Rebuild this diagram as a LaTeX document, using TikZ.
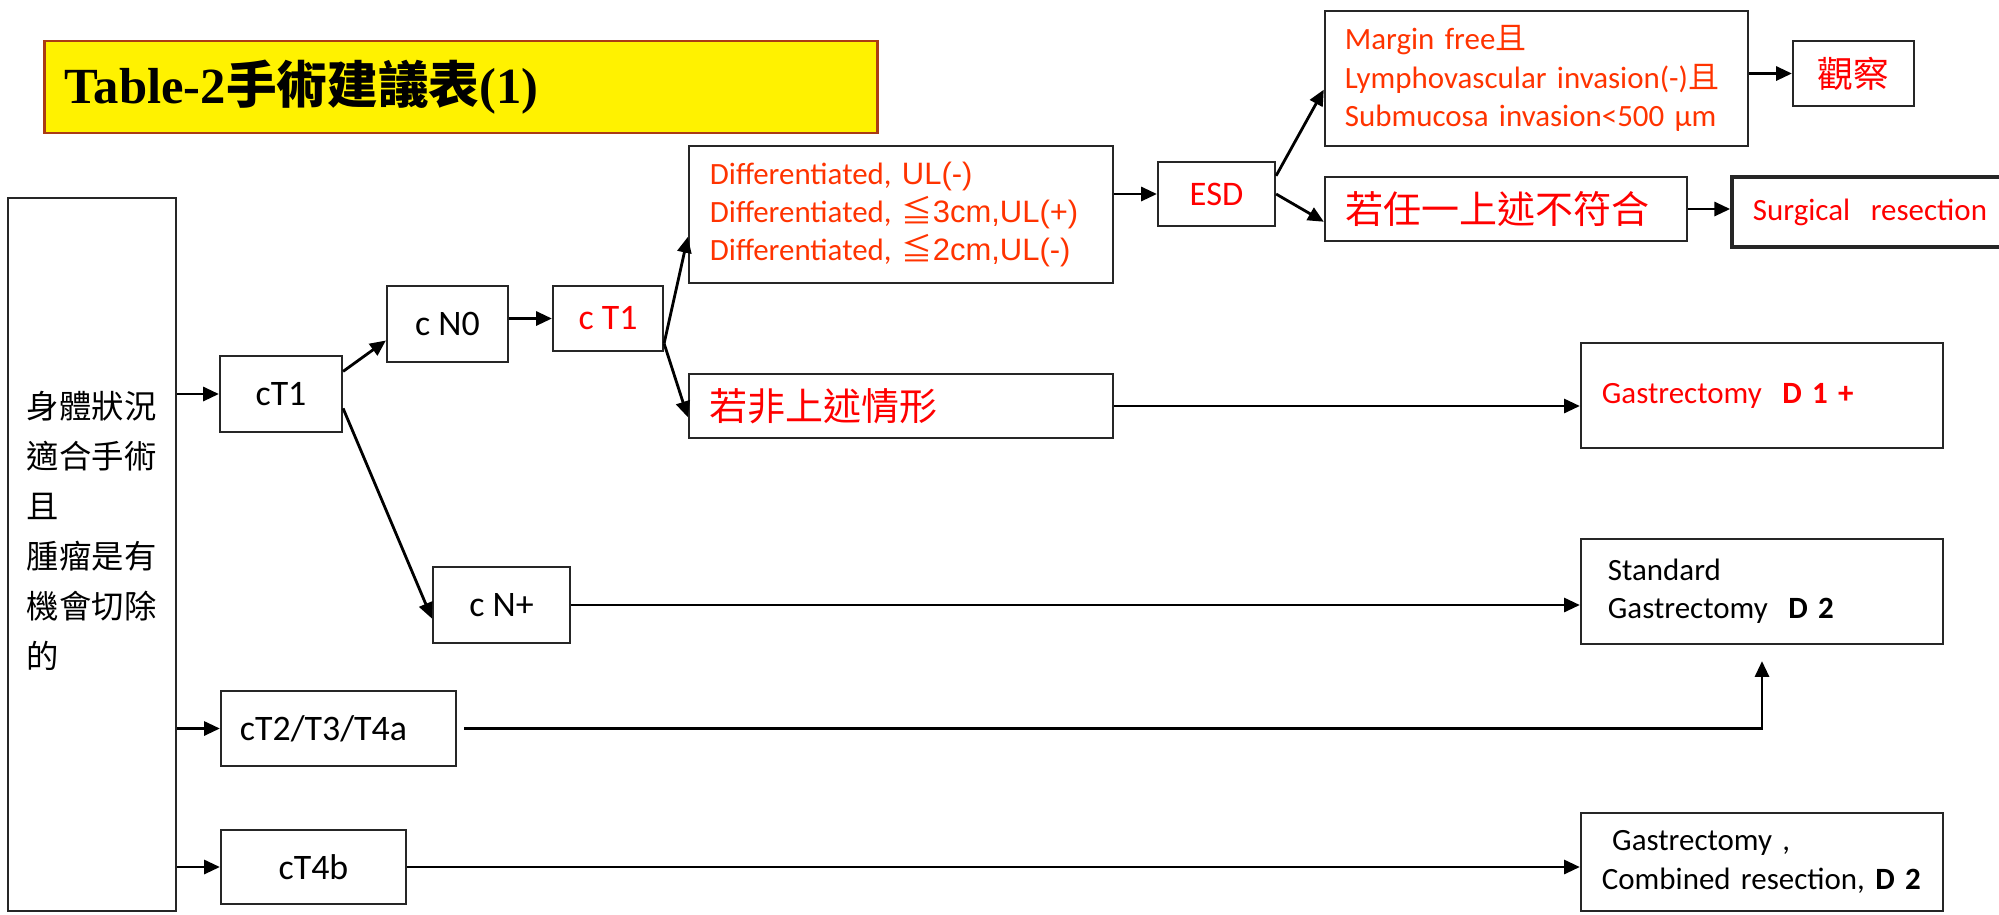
\documentclass[tikz,border=0pt]{standalone}
\usepackage{fontspec}
\setmainfont{Carlito}
\newfontfamily\cjk{Noto Sans CJK TC}
\newfontfamily\arial{Liberation Sans}
\newfontfamily\titlelatin{Liberation Serif}
\usetikzlibrary{arrows.meta}
\definecolor{orred}{RGB}{255,51,0}
\definecolor{rust}{RGB}{170,60,20}

\begin{document}
\begin{tikzpicture}[x=0.01cm,y=-0.01cm,
    box/.style={draw=black!85,line width=0.6pt,inner sep=0pt},
    big/.style={font=\fontsize{10.2}{12}\selectfont},
    small/.style={font=\fontsize{8.8}{10.9}\selectfont},
    cjkbig/.style={font=\cjk\fontsize{10.8}{12}\selectfont},
    arr/.style={-{Triangle[length=4.5pt,width=4pt]},line width=0.8pt}]
    \useasboundingbox (0,0) rectangle (1999,914);
    \draw (461,87) node(title) [box,draw=rust,fill=yellow,line width=0.8pt,
        minimum height=0.92cm,text width=7.92cm,inner xsep=0.2cm,align=left,
        font=\bfseries\fontsize{14.4}{16}\selectfont]
        {{\titlelatin Table-2}{\cjk 手術建議表}{\titlelatin (1)}};
    \draw (92,554.5) node(body) [box,minimum height=7.13cm,text width=1.3cm,
        inner xsep=0.19cm,align=left,font=\cjk\fontsize{9.2}{14.2}\selectfont]
        {身體狀況\\適合手術\\且\\腫瘤是有\\機會切除\\的\\ \mbox{}}
        (281,394) node(ct1) [box,big,minimum width=1.22cm,minimum height=0.76cm] {cT1}
        (447.5,324) node(cn0) [box,big,minimum width=1.21cm,minimum height=0.76cm] {c N0}
        (608,318.5) node(ct1r) [box,big,text=red,minimum width=1.1cm,minimum height=0.65cm] {c T1}
        (501.5,605) node(cnp) [box,big,minimum width=1.37cm,minimum height=0.76cm] {c N+}
        (338.5,728.5) node(ct2) [box,big,text width=1.97cm,inner xsep=0.19cm,
            minimum height=0.75cm,align=left] {cT2/T3/T4a}
        (313.5,867) node(ct4b) [box,big,minimum width=1.85cm,minimum height=0.74cm] {cT4b};
    \draw (901,214.5) node(diff) [box,small,text=orred,text width=3.82cm,inner xsep=0.21cm,
            minimum height=1.37cm,align=left]
            {Differentiated, {\arial UL(-)}\\Differentiated, {\cjk ≦}{\arial 3cm,UL(+)}\\
             Differentiated, {\cjk ≦}{\arial 2cm,UL(-)}}
        (901,406) node(notab) [box,cjkbig,text=red,text width=3.82cm,inner xsep=0.21cm,
            minimum height=0.64cm,align=left] {若非上述情形}
        (1216.5,194) node(esd) [box,text=red,minimum width=1.17cm,minimum height=0.64cm,
            font=\fontsize{9.8}{12}\selectfont] {ESD}
        (1536.5,78.5) node(margin) [box,small,text=orred,text width=3.83cm,inner xsep=0.2cm,
            minimum height=1.35cm,align=left]
            {Margin free{\cjk 且}\\Lymphovascular invasion(-){\cjk 且}\\Submucosa invasion<500 µm}
        (1853.5,73.5) node(obs) [box,text=red,minimum width=1.21cm,minimum height=0.65cm,
            font=\cjk\fontsize{10.2}{12}\selectfont] {觀察}
        (1506,209) node(fail) [box,cjkbig,text=red,text width=3.2cm,inner xsep=0.21cm,
            minimum height=0.64cm,align=left] {若任一上述不符合}
        (1871,212) node(surg) [box,small,line width=1pt,text=red,text width=2.36cm,
            inner xsep=0.21cm,minimum height=0.7cm,align=left] {Surgical\ \ resection};
    \draw (1762,395.5) node(d1) [box,small,text=red,text width=3.2cm,inner xsep=0.21cm,
            minimum height=1.05cm,align=left] {Gastrectomy\ \ \textbf{D 1 +}}
        (1762,591.5) node(d2) [box,small,text width=3.08cm,inner xsep=0.27cm,
            minimum height=1.05cm,align=left] {Standard\\Gastrectomy\ \ \textbf{D 2}}
        (1762,862) node(d2c) [box,small,text width=3.2cm,inner xsep=0.21cm,
            minimum height=0.98cm,align=left]
            {\ Gastrectomy ,\\\mbox{Combined resection, \textbf{D 2}}};
    \draw[arr] (body.east |- ct1) -- (ct1.west);
    \draw[arr] (body.east |- ct2) -- (ct2.west);
    \draw[arr] (body.east |- ct4b) -- (ct4b.west);
    \draw[arr] (ct1.20) -- (cn0.195);
    \draw[arr] (ct1.-13) -- (cnp.191);
    \draw[arr] (cn0.east |- ct1r) -- (ct1r.west);
    \draw[arr] (ct1r.-24) -- (diff.186);
    \draw[arr] (ct1r.-24) -- (notab.183);
    \draw[arr] (diff.east |- esd) -- (esd.west);
    \draw[arr] (esd.17) -- (margin.183);
    \draw[arr] (esd.east) -- (fail.184);
    \draw[arr] (margin.east |- obs) -- (obs.west);
    \draw[arr] (fail.east) -- (surg.west |- fail.east);
    \draw[arr] (notab.east) -- (d1.west |- notab.east);
    \draw[arr] (cnp.east) -- (d2.west |- cnp.east);
    \draw[arr] ([xshift=0.07cm]ct2.east) -| ([yshift=-0.16cm]d2.south);
    \draw[arr] (ct4b.east) -- (d2c.west |- ct4b.east);
\end{tikzpicture}
\end{document}
